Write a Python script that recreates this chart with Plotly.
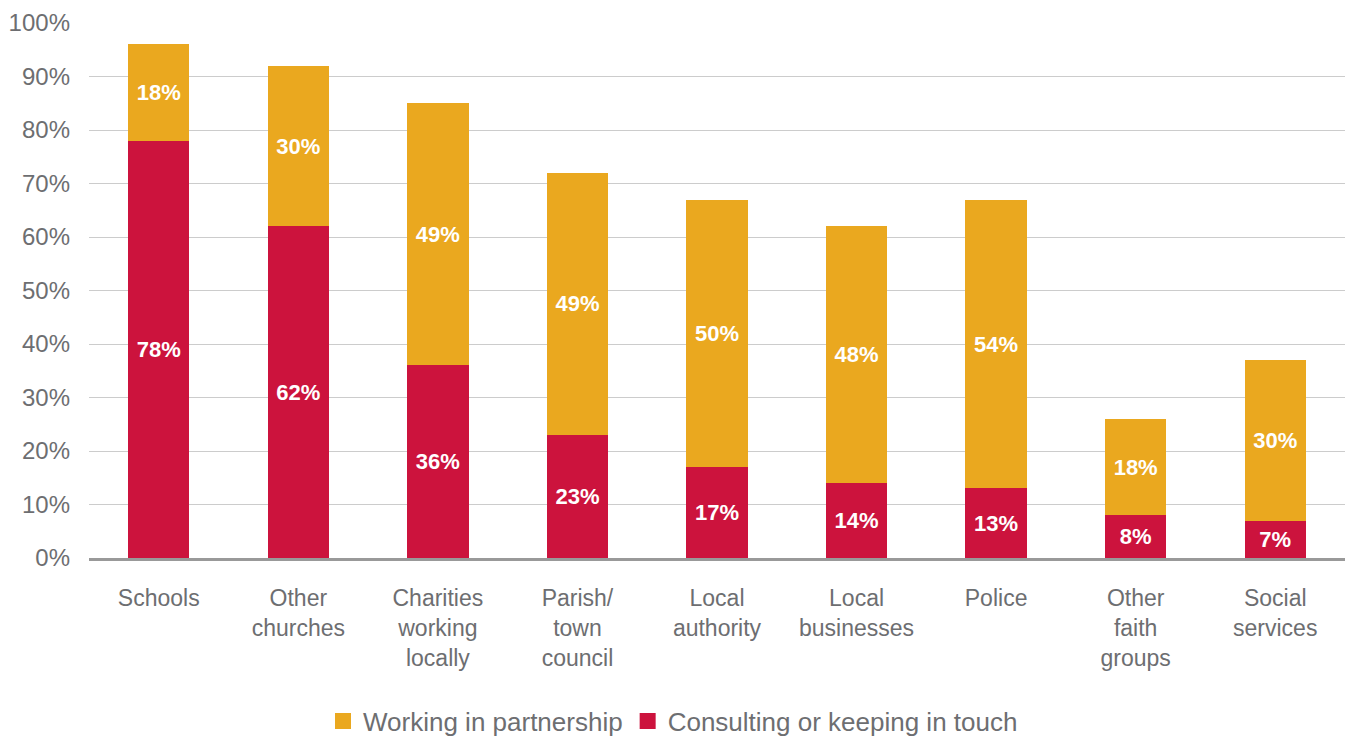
import plotly.graph_objects as go

categories = ["Schools", "Other<br>churches", "Charities<br>working<br>locally", "Parish/<br>town<br>council",
              "Local<br>authority", "Local<br>businesses", "Police", "Other<br>faith<br>groups", "Social<br>services"]
consulting = [78, 62, 36, 23, 17, 14, 13, 8, 7]
partnership = [18, 30, 49, 49, 50, 48, 54, 18, 30]
y_ticks = [0, 10, 20, 30, 40, 50, 60, 70, 80, 90, 100]

RED = "#CC133D"
ORANGE = "#EAA81F"
GREY = "#6D6E71"
FONT = "Liberation Sans, Arial, sans-serif"

fig = go.Figure()
fig.add_trace(go.Bar(
    x=categories, y=consulting, name="Consulting or keeping in touch",
    marker=dict(color=RED, line=dict(width=0)),
    text=[f"{v}%" for v in consulting], textposition="inside", insidetextanchor="middle",
    textfont=dict(color="white", size=22, family=FONT, weight="bold"), constraintext="none",
    showlegend=False,
))
fig.add_trace(go.Bar(
    x=categories, y=partnership, name="Working in partnership",
    marker=dict(color=ORANGE, line=dict(width=0)),
    text=[f"{v}%" for v in partnership], textposition="inside", insidetextanchor="middle",
    textfont=dict(color="white", size=22, family=FONT, weight="bold"), constraintext="none",
    showlegend=False,
))
# legend proxies
fig.add_trace(go.Scatter(x=[None], y=[None], mode="markers", name="Working in partnership",
                         marker=dict(symbol="square", size=17, color=ORANGE)))
fig.add_trace(go.Scatter(x=[None], y=[None], mode="markers", name="Consulting or keeping in touch",
                         marker=dict(symbol="square", size=17, color=RED)))

W, H = 1346, 730
fig.update_layout(
    barmode="stack",
    bargap=0.56,
    width=W, height=H,
    margin=dict(l=81, r=9, t=15, b=180),
    plot_bgcolor="white", paper_bgcolor="white",
    font=dict(family=FONT, color=GREY, size=23),
    showlegend=True,
    legend=dict(orientation="h", x=665 / W, xanchor="center", xref="container",
                y=17 / H, yanchor="middle", yref="container", traceorder="normal",
                font=dict(size=26, color=GREY, family=FONT), itemwidth=30,
                tracegroupgap=0),
)
fig.update_yaxes(
    range=[0, 100], tickvals=y_ticks, ticktext=[f"{v}%" for v in y_ticks],
    showgrid=True, gridcolor="#CCCCCC", gridwidth=1.3, zeroline=False,
    tickfont=dict(size=24, color=GREY), ticks="", ticklabelstandoff=18, automargin=False,
)
fig.update_xaxes(
    showline=True, linecolor="#999999", linewidth=2.5, ticks="",
    tickfont=dict(size=23, color=GREY), ticklabelstandoff=18, automargin=False,
)

fig.write_html("out.html")
